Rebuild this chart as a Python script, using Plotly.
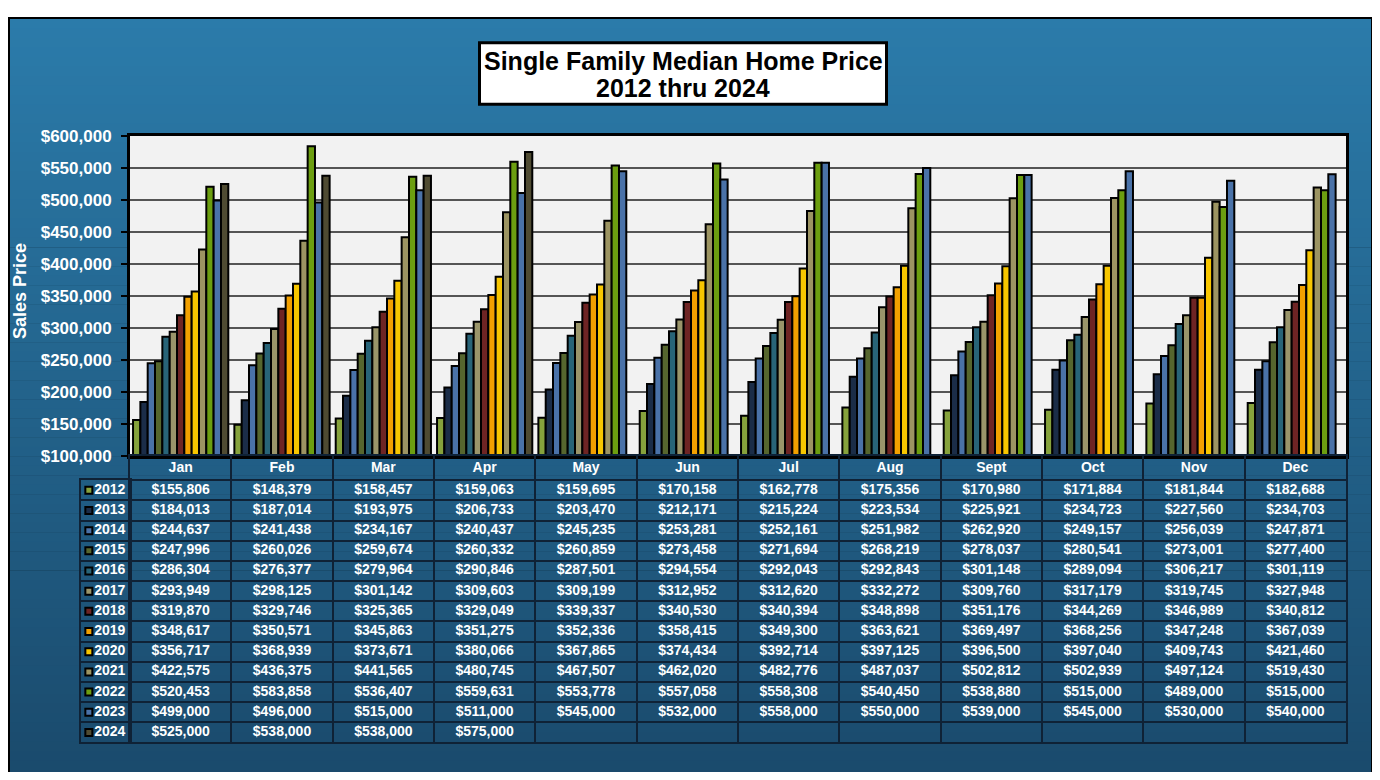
import plotly.graph_objects as go

# ---------------- data ----------------
months = ["Jan", "Feb", "Mar", "Apr", "May", "Jun", "Jul", "Aug", "Sept", "Oct", "Nov", "Dec"]
years = ["2012", "2013", "2014", "2015", "2016", "2017", "2018", "2019", "2020", "2021", "2022", "2023", "2024"]

p2012 = [155806, 148379, 158457, 159063, 159695, 170158, 162778, 175356, 170980, 171884, 181844, 182688]
p2013 = [184013, 187014, 193975, 206733, 203470, 212171, 215224, 223534, 225921, 234723, 227560, 234703]
p2014 = [244637, 241438, 234167, 240437, 245235, 253281, 252161, 251982, 262920, 249157, 256039, 247871]
p2015 = [247996, 260026, 259674, 260332, 260859, 273458, 271694, 268219, 278037, 280541, 273001, 277400]
p2016 = [286304, 276377, 279964, 290846, 287501, 294554, 292043, 292843, 301148, 289094, 306217, 301119]
p2017 = [293949, 298125, 301142, 309603, 309199, 312952, 312620, 332272, 309760, 317179, 319745, 327948]
p2018 = [319870, 329746, 325365, 329049, 339337, 340530, 340394, 348898, 351176, 344269, 346989, 340812]
p2019 = [348617, 350571, 345863, 351275, 352336, 358415, 349300, 363621, 369497, 368256, 347248, 367039]
p2020 = [356717, 368939, 373671, 380066, 367865, 374434, 392714, 397125, 396500, 397040, 409743, 421460]
p2021 = [422575, 436375, 441565, 480745, 467507, 462020, 482776, 487037, 502812, 502939, 497124, 519430]
p2022 = [520453, 583858, 536407, 559631, 553778, 557058, 558308, 540450, 538880, 515000, 489000, 515000]
p2023 = [499000, 496000, 515000, 511000, 545000, 532000, 558000, 550000, 539000, 545000, 530000, 540000]
p2024 = [525000, 538000, 538000, 575000, None, None, None, None, None, None, None, None]

series = [p2012, p2013, p2014, p2015, p2016, p2017, p2018, p2019, p2020, p2021, p2022, p2023, p2024]

colors = ["#86a23c", "#1b2d48", "#4a72a8", "#56662e", "#286478", "#9a956a", "#6e2424",
          "#f2a000", "#f7c600", "#9c9462", "#6c9e10", "#4a72a8", "#4f4b32"]

title_line1 = "Single Family Median Home Price"
title_line2 = "2012 thru 2024"
y_title = "Sales Price"

# ---------------- geometry helpers ----------------
# The page body keeps its default 8px margin; the figure is sized so that the
# whole page is exactly 1380x780 (8px margin on each side vertically).
OFF = 8
W, H = 1380 - OFF, 780 - 2 * OFF
FONT = "Arial, Liberation Sans, sans-serif"
GRID_DARK = "#0f2236"


def px(x):
    return (x - OFF) / W


def py(y):
    return 1 - (y - OFF) / H


fig = go.Figure()

# bars
for yr, vals, col in zip(years, series, colors):
    fig.add_trace(go.Bar(
        x=months, y=vals, name=yr,
        marker=dict(color=col, line=dict(color="black", width=2)),
        showlegend=False, hoverinfo="skip",
    ))

# data table (month part): header row above data rows 0..12
HDR = 25 / 20.69  # header height in data-row units
hdr_y = -0.5 - HDR / 2
tx, ty, tt = [], [], []
for m, name in enumerate(months):
    tx.append(m); ty.append(hdr_y); tt.append(f"<b>{name}</b>")
for r, s in enumerate(series):
    for m in range(len(months)):
        if s[m] is not None:
            tx.append(m); ty.append(r); tt.append(f"<b>${s[m]:,}</b>")
fig.add_trace(go.Scatter(
    x=tx, y=ty, text=tt, mode="text", textposition="middle center",
    textfont=dict(family=FONT, size=14, color="white"),
    xaxis="x3", yaxis="y3", showlegend=False, hoverinfo="skip", cliponaxis=False,
))

# legend keys + years in the table's first column
fig.add_trace(go.Scatter(
    x=[0.16] * len(years), y=list(range(len(years))),
    mode="markers+text",
    text=[f"<b>{y}</b>" for y in years],
    textposition="middle right",
    textfont=dict(family=FONT, size=14, color="white"),
    marker=dict(symbol="square", size=7, color=colors, line=dict(color="black", width=2)),
    xaxis="x2", yaxis="y2", showlegend=False, hoverinfo="skip", cliponaxis=False,
))

# ---------------- background ----------------
shapes = [dict(type="rect", xref="paper", yref="paper", x0=px(OFF), x1=px(1374), y0=py(800), y1=py(OFF),
               fillcolor="black", line=dict(width=0), layer="below")]
top = (43, 123, 170)
bot = (26, 74, 108)
y_start, y_end = 10, 790
nb = 80
step = (y_end - y_start) / nb
for i in range(nb):
    t = i / (nb - 1)
    c = tuple(round(top[k] + (bot[k] - top[k]) * t) for k in range(3))
    shapes.append(dict(type="rect", xref="paper", yref="paper",
                       x0=px(10), x1=px(1371), y0=py(y_start + (i + 1) * step + 0.5), y1=py(y_start + i * step),
                       fillcolor=f"rgb{c}", line=dict(width=0), layer="below"))
shapes.append(dict(type="rect", xref="x domain", yref="y domain", x0=0, x1=1, y0=0, y1=1,
                   fillcolor="#f2f2f2", line=dict(width=0), layer="below"))
# title box
shapes.append(dict(type="rect", xref="paper", yref="paper", x0=px(479.5), x1=px(886.5), y0=py(97.5), y1=py(34.5),
                   fillcolor="white", line=dict(color="black", width=3), layer="below"))

n_rows = len(years)
fig.update_layout(
    width=W, height=H,
    margin=dict(l=0, r=0, t=0, b=0),
    paper_bgcolor="white",
    plot_bgcolor="#f2f2f2",
    barmode="group", bargap=0.06, bargroupgap=0,
    font=dict(family=FONT),
    shapes=shapes,
    xaxis=dict(domain=[px(130), px(1346)], showticklabels=False, ticks="",
               showline=True, mirror=True, linecolor="black", linewidth=3,
               showgrid=False, zeroline=False, fixedrange=True),
    yaxis=dict(domain=[py(458), py(130)], range=[100000, 600000], dtick=50000,
               tickformat="$,.0f", ticks="outside", ticklen=6, tickwidth=2, tickcolor="black",
               ticklabelstandoff=6,
               tickfont=dict(family=FONT, size=17, color="white", weight="bold"),
               showline=True, mirror=True, linecolor="black", linewidth=3,
               showgrid=True, gridcolor="#555555", gridwidth=1.6, zeroline=False, fixedrange=True),
    # first column of the table (keys + years)
    xaxis2=dict(domain=[px(81), px(130)], range=[0, 1], anchor="y2", fixedrange=True,
                showticklabels=False, ticks="", showgrid=False, zeroline=False,
                showline=True, mirror=True, linecolor=GRID_DARK, linewidth=2),
    yaxis2=dict(domain=[py(752), py(483)], range=[n_rows - 0.5, -0.5], anchor="x2", fixedrange=True,
                tickvals=[i - 0.5 for i in range(n_rows + 1)], showticklabels=False, ticks="",
                showgrid=True, gridcolor=GRID_DARK, gridwidth=2, zeroline=False,
                showline=True, mirror=True, linecolor=GRID_DARK, linewidth=2),
    # month columns of the table
    xaxis3=dict(domain=[px(130), px(1346)], range=[-0.5, len(months) - 0.5], anchor="y3", fixedrange=True,
                tickvals=[i - 0.5 for i in range(len(months) + 1)], showticklabels=False, ticks="",
                showgrid=True, gridcolor=GRID_DARK, gridwidth=2, zeroline=False,
                showline=True, mirror=True, linecolor=GRID_DARK, linewidth=2),
    yaxis3=dict(domain=[py(752), py(458)], range=[n_rows - 0.5, -0.5 - HDR], anchor="x3", fixedrange=True,
                tickvals=[-0.5 - HDR] + [i - 0.5 for i in range(n_rows + 1)], showticklabels=False, ticks="",
                showgrid=True, gridcolor=GRID_DARK, gridwidth=2, zeroline=False,
                showline=True, mirror=True, linecolor=GRID_DARK, linewidth=2),
    annotations=[
        dict(text=f"<b>{title_line1}</b>", xref="paper", yref="paper", x=px(683), y=py(53),
             xanchor="center", yanchor="middle", showarrow=False,
             font=dict(family=FONT, size=25, color="black")),
        dict(text=f"<b>{title_line2}</b>", xref="paper", yref="paper", x=px(683), y=py(81),
             xanchor="center", yanchor="middle", showarrow=False,
             font=dict(family=FONT, size=25, color="black")),
        dict(text=f"<b>{y_title}</b>", xref="paper", yref="paper", x=px(20), y=py(289),
             xanchor="center", yanchor="middle", textangle=-90, showarrow=False,
             font=dict(family=FONT, size=18, color="white")),
    ],
)

fig.write_html("out.html", config={"displayModeBar": False})
